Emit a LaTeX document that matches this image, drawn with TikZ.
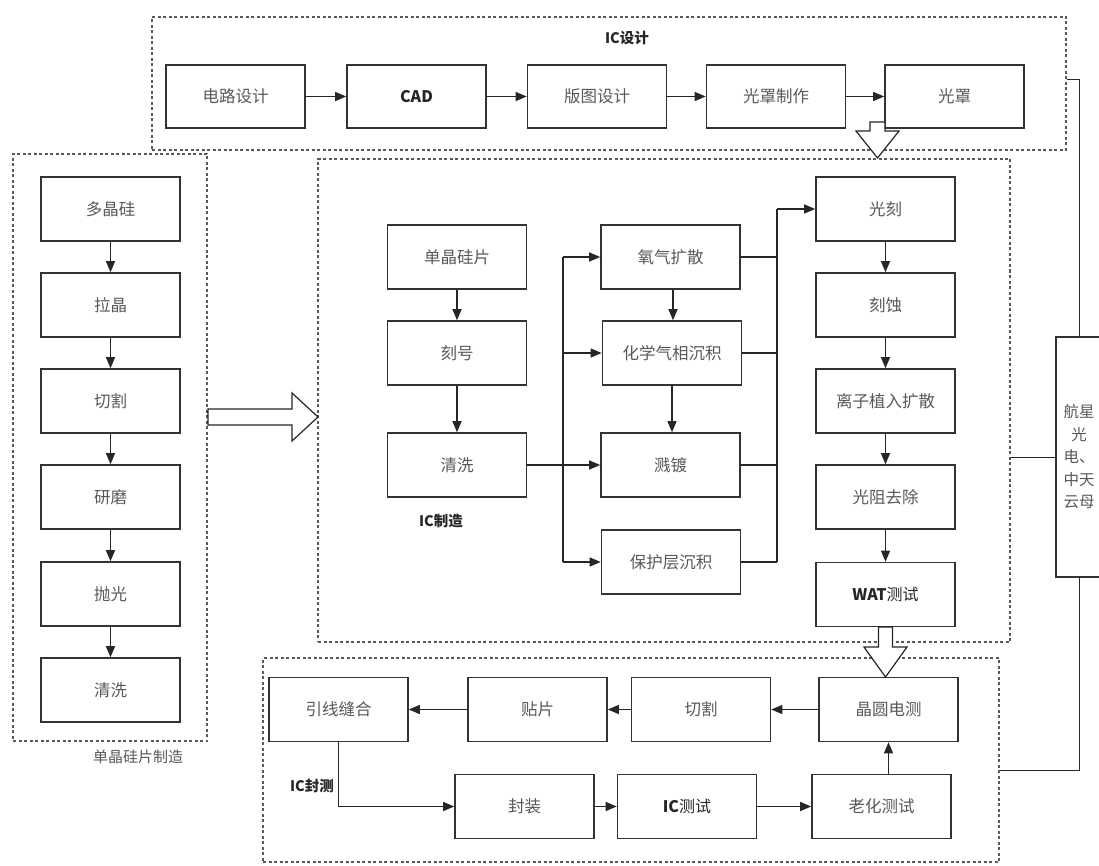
\documentclass[tikz,border=0pt]{standalone}
\usepackage{fontspec}
\setmainfont{Liberation Sans}
\newfontfamily\cjk{Noto Sans CJK SC}
\usetikzlibrary{arrows.meta}
\begin{document}
\begin{tikzpicture}[x=1pt,y=-1pt,
  box/.style={draw=black!80, line width=1.6pt, fill=white, minimum width=139pt, minimum height=64pt, inner sep=0pt, font=\cjk\fontsize{16.5}{19}\selectfont, text=black!65},
  bbox/.style={box, font=\cjk\bfseries\fontsize{16}{19}\selectfont, text=black!85},
  grp/.style={draw=black!65, line width=1.3pt, dash pattern=on 3pt off 2.5pt, inner sep=0pt},
  arr/.style={draw=black!85, line width=1.2pt, -{Triangle[length=11pt,width=9pt]}},
  ln/.style={draw=black!85, line width=1.2pt},
  hollow/.style={draw=black!85, line width=1.2pt, fill=white},
  lbl/.style={font=\cjk\bfseries\fontsize{14.5}{17}\selectfont, text=black!85},
  glbl/.style={font=\cjk\fontsize{15}{17}\selectfont, text=black!65}
]
\useasboundingbox (0,0) rectangle (1099,866);

% group boxes
\node[grp, minimum width=914pt, minimum height=133pt] (gtop) at (609,83.5) {};
\node[grp, minimum width=194pt, minimum height=587pt] (gleft) at (110,447.5) {};
\node[grp, minimum width=692pt, minimum height=483pt] (gmid) at (664,400.5) {};
\node[grp, minimum width=736pt, minimum height=204pt] (gbot) at (631,760) {};

\node[lbl] (ltop) at (627,38) {IC设计};
\node[lbl] (lmid) at (441,521) {IC制造};
\node[lbl] (lbot) at (312,786) {IC封测};
\node[glbl] (lleft) at (138,757) {单晶硅片制造};

% top row
\node[box, minimum height=63pt] (a1) at (235.5,96.5) {电路设计};
\node[bbox, minimum height=63pt] (a2) at (416.5,96.5) {CAD};
\node[box, minimum height=63pt] (a3) at (597,96.5) {版图设计};
\node[box, minimum height=63pt] (a4) at (776,96.5) {光罩制作};
\node[box, minimum height=63pt] (a5) at (954.5,96.5) {光罩};
\draw[arr] (a1) -- (a2);
\draw[arr] (a2) -- (a3);
\draw[arr] (a3) -- (a4);
\draw[arr] (a4) -- (a5);

% left column
\node[box] (s1) at (110.5,209) {多晶硅};
\node[box] (s2) at (110.5,305) {拉晶};
\node[box] (s3) at (110.5,401) {切割};
\node[box] (s4) at (110.5,497) {研磨};
\node[box] (s5) at (110.5,594) {抛光};
\node[box] (s6) at (110.5,690) {清洗};
\draw[arr] (s1) -- (s2);
\draw[arr] (s2) -- (s3);
\draw[arr] (s3) -- (s4);
\draw[arr] (s4) -- (s5);
\draw[arr] (s5) -- (s6);

% middle: left column
\node[box] (m1) at (457,257) {单晶硅片};
\node[box] (m2) at (457,353) {刻号};
\node[box] (m3) at (457,465) {清洗};
\draw[arr] (m1) -- (m2);
\draw[arr] (m2) -- (m3);

% middle: process column
\node[box] (p1) at (670.5,257) {氧气扩散};
\node[box] (p2) at (672,353) {化学气相沉积};
\node[box] (p3) at (670.5,465) {溅镀};
\node[box] (p4) at (671,562) {保护层沉积};
\draw[arr] (p1.south -| 673,0) -- (p2.north -| 673,0);
\draw[arr] (p2) -- (p3.north -| p2.south);

\coordinate (t) at (563,465);
\draw[arr] (m3.east) -- (p3.west);
\draw[ln] (t |- p1) -- (t |- p4);
\draw[arr] (t |- p1) -- (p1.west);
\draw[arr] (t |- p2) -- (p2.west);
\draw[arr] (t |- p4) -- (p4.west);

% right column
\node[box] (r1) at (885.5,209) {光刻};
\node[box] (r2) at (885.5,305) {刻蚀};
\node[box] (r3) at (885.5,401) {离子植入扩散};
\node[box] (r4) at (885.5,497) {光阻去除};
\node[bbox] (r5) at (885.5,594.5) {WAT{\mdseries 测试}};
\draw[arr] (r1) -- (r2);
\draw[arr] (r2) -- (r3);
\draw[arr] (r3) -- (r4);
\draw[arr] (r4) -- (r5);

\coordinate (c) at (777,300);
\draw[ln] (p1.east) -- (c |- p1);
\draw[ln] (p2.east) -- (c |- p2);
\draw[ln] (p3.east) -- (c |- p3);
\draw[ln] (p4.east) -- (c |- p4);
\draw[ln] (c |- r1) -- (c |- p4);
\draw[arr] (c |- r1) -- (r1.west);

% bottom
\node[box] (b1) at (338.5,709.5) {引线缝合};
\node[box] (b2) at (537.5,709.5) {贴片};
\node[box] (b3) at (701,709.5) {切割};
\node[box] (b4) at (888.5,709.5) {晶圆电测};
\node[box] (b5) at (524.5,806.5) {封装};
\node[bbox] (b6) at (687,806.5) {IC{\mdseries 测试}};
\node[box] (b7) at (881.5,806.5) {老化测试};
\draw[arr] (b4) -- (b3);
\draw[arr] (b3) -- (b2);
\draw[arr] (b2) -- (b1);
\draw[arr] (b1.south) -- (b1.south |- b5) -- (b5.west);
\draw[arr] (b5) -- (b6);
\draw[arr] (b6) -- (b7);
\draw[arr] (b7.north -| b4.south) -- (b4.south);

% side node
\node[box, minimum width=46pt, minimum height=240pt, line width=1.3pt, align=center, font=\cjk\fontsize{15.5}{22.5}\selectfont] (hx) at (1079,457) {航星\\光\\电、\\中天\\云母};
\coordinate (k1) at (1079,80);
\coordinate (k2) at (1079,770);
\draw[ln, line width=1pt] (gtop.east |- k1) -- (k1) -- (hx.north);
\draw[ln, line width=1pt] (hx.west) -- (hx.west -| gmid.east);
\draw[ln, line width=1pt] (hx.south) -- (k2) -- (k2 -| gbot.east);

% hollow block arrows
\draw[hollow] (208,409) -- (292,409) -- (292,393) -- (318,417) -- (292,441) -- (292,425) -- (208,425) -- cycle;
\draw[hollow] (870,122) -- (885,122) -- (885,131) -- (899,131) -- (877.5,158) -- (856,131) -- (870,131) -- cycle;
\draw[hollow] (878.5,627) -- (892.5,627) -- (892.5,647) -- (907,647) -- (885.5,677) -- (864,647) -- (878.5,647) -- cycle;
\end{tikzpicture}
\end{document}
